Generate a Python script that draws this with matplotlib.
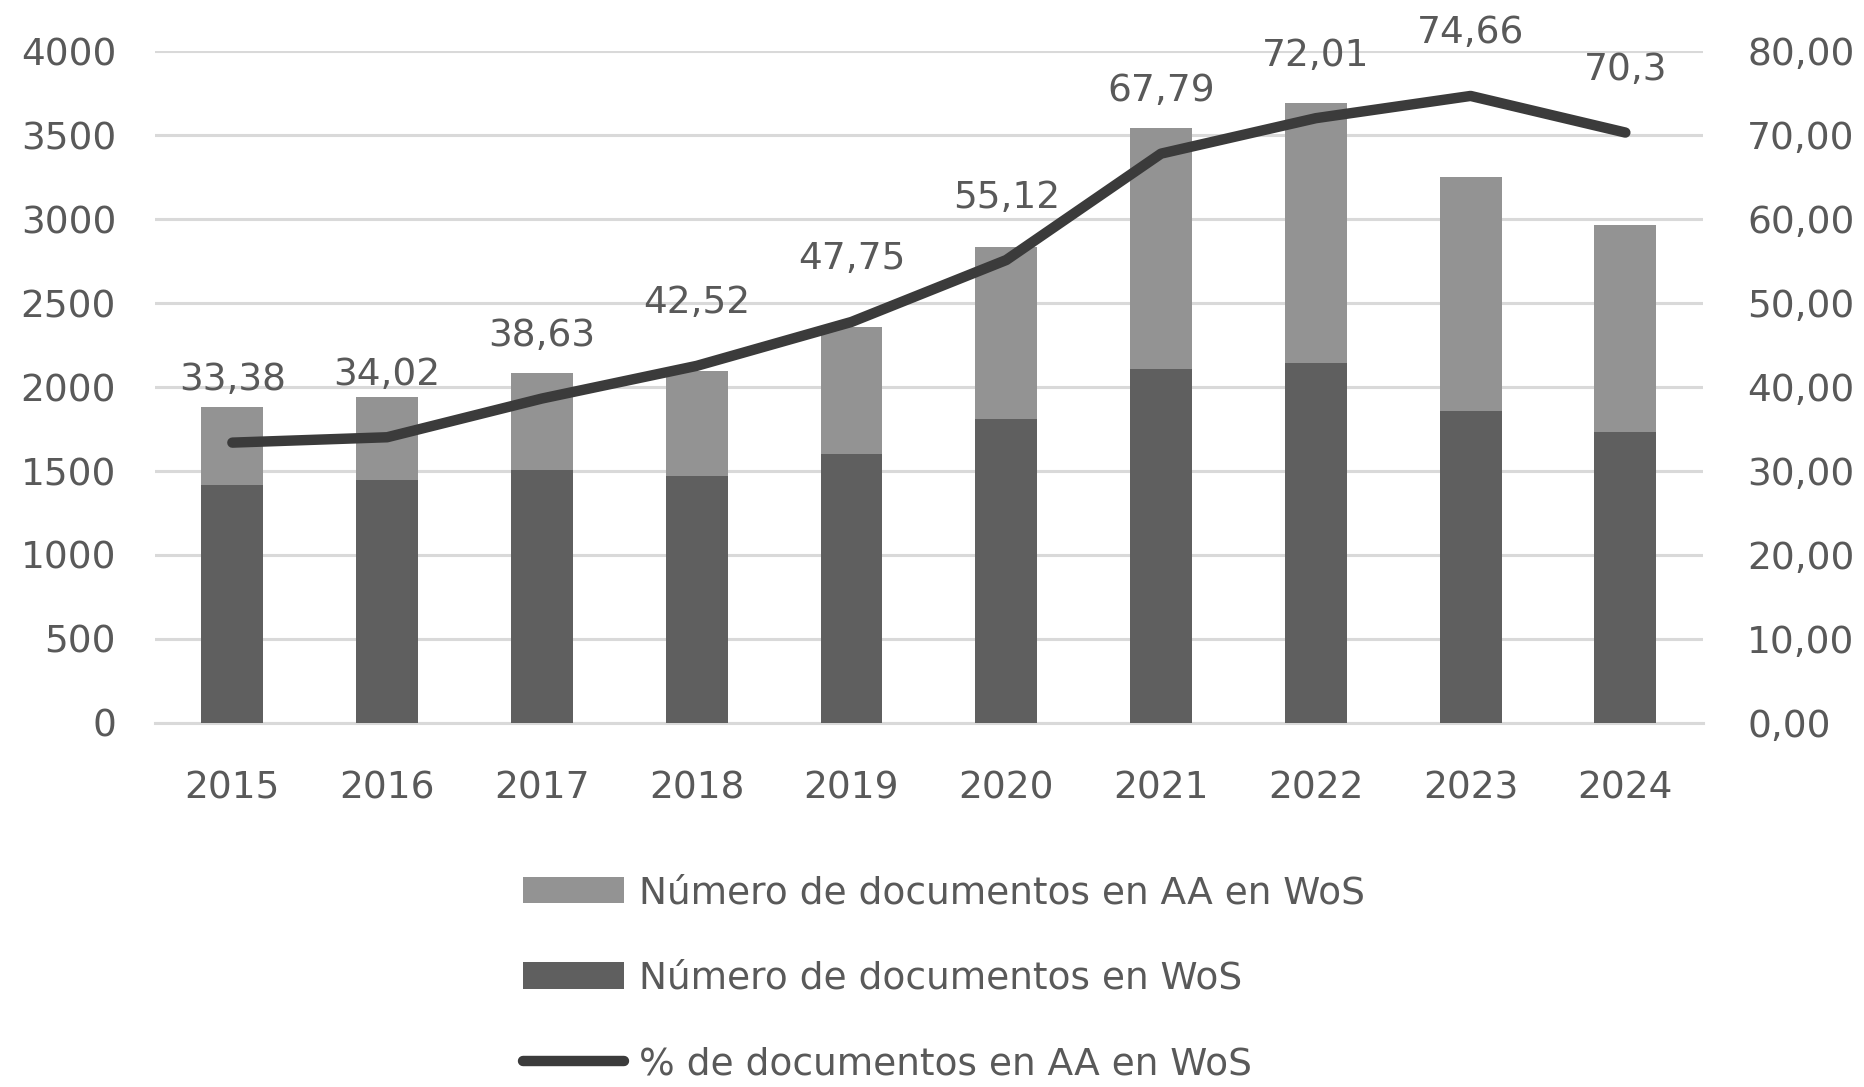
import matplotlib
matplotlib.use('Agg')
import matplotlib.pyplot as plt
import numpy as np

years = ['2015', '2016', '2017', '2018', '2019', '2020', '2021', '2022', '2023', '2024']
docs_wos = [1416, 1444, 1508, 1473, 1600, 1812, 2110, 2145, 1855, 1735]
docs_aa = [467, 496, 573, 623, 757, 1020, 1430, 1543, 1395, 1231]
pct_aa = [33.38, 34.02, 38.63, 42.52, 47.75, 55.12, 67.79, 72.01, 74.66, 70.3]
pct_labels = ['33,38', '34,02', '38,63', '42,52', '47,75', '55,12', '67,79', '72,01', '74,66', '70,3']

text_color = '#595959'
grid_color = '#d9d9d9'
light = '#939393'
dark = '#5f5f5f'
line_color = '#3b3b3b'

plt.rcParams['font.family'] = ['DejaVu Sans']
plt.rcParams['font.size'] = 27

fig = plt.figure(figsize=(18.65, 10.87), dpi=100)
ax = fig.add_axes([0.0831, 0.3349, 0.8299, 0.6181])
x = np.arange(len(years))

b1 = ax.bar(x, docs_wos, width=0.4, color=dark, zorder=3,
            label='Número de documentos en WoS')
b2 = ax.bar(x, docs_aa, width=0.4, bottom=docs_wos, color=light, zorder=3,
            label='Número de documentos en AA en WoS')

ax.set_xlim(-0.5, len(years) - 0.5)
ax.set_ylim(0, 4000)
ax.set_yticks(range(0, 4001, 500))
ax.set_xticks(x)
ax.set_xticklabels(years)
ax.yaxis.grid(True, color=grid_color, linewidth=2.2, zorder=0)
ax.set_axisbelow(True)
for s in ['top', 'left', 'right']:
    ax.spines[s].set_visible(False)
ax.spines['bottom'].set_color(grid_color)
ax.spines['bottom'].set_linewidth(2.2)
ax.tick_params(axis='both', length=0, colors=text_color, labelsize=27)
ax.tick_params(axis='y', pad=28)
ax.tick_params(axis='x', pad=34)

ax2 = ax.twinx()
ax2.set_ylim(0, 80)
ax2.set_yticks(range(0, 81, 10))
ax2.set_yticklabels([f'{v},00' for v in range(0, 81, 10)])
for s in ax2.spines.values():
    s.set_visible(False)
ax2.tick_params(axis='y', length=0, colors=text_color, labelsize=27, pad=32)
ln, = ax2.plot(x, pct_aa, color=line_color, linewidth=7.5,
               solid_capstyle='round', solid_joinstyle='round',
               label='% de documentos en AA en WoS', zorder=4)

for xi, yi, lab in zip(x, pct_aa, pct_labels):
    ax2.annotate(lab, (xi, yi), xytext=(0, 45), textcoords='offset points',
                 ha='center', va='center', color=text_color, fontsize=27,
                 annotation_clip=False)

leg = fig.legend([b2, b1, ln],
                 ['Número de documentos en AA en WoS',
                  'Número de documentos en WoS',
                  '% de documentos en AA en WoS'],
                 loc='upper left', bbox_to_anchor=(0.2804, 0.195),
                 frameon=False, fontsize=27, handlelength=2.7,
                 handletextpad=0.4, labelspacing=1.32, borderpad=0,
                 borderaxespad=0)
for t in leg.get_texts():
    t.set_color(text_color)

fig.savefig('out.png', dpi=100)
